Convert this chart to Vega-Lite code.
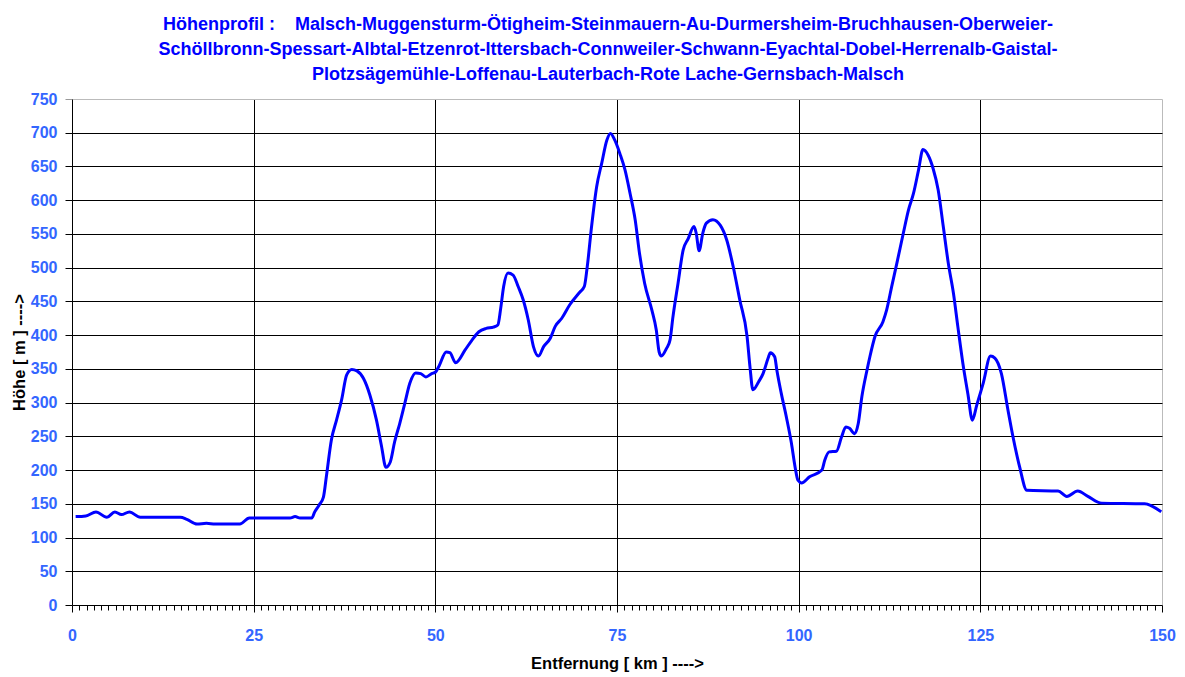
{
  "$schema": "https://vega.github.io/schema/vega-lite/v6.json",
  "width": 1090,
  "height": 506,
  "autosize": {"type": "none"},
  "padding": {"left": 72, "top": 99, "right": 23, "bottom": 72},
  "background": "white",
  "config": {
    "view": {"stroke": null},
    "font": "Liberation Sans"
  },
  "title": {
    "text": [
      "Höhenprofil :\u00a0\u00a0\u00a0 Malsch-Muggensturm-Ötigheim-Steinmauern-Au-Durmersheim-Bruchhausen-Oberweier-",
      "Schöllbronn-Spessart-Albtal-Etzenrot-Ittersbach-Connweiler-Schwann-Eyachtal-Dobel-Herrenalb-Gaistal-",
      "Plotzsägemühle-Loffenau-Lauterbach-Rote Lache-Gernsbach-Malsch"
    ],
    "font": "Liberation Sans",
    "fontSize": 18,
    "fontWeight": "bold",
    "color": "#0000FF",
    "lineHeight": 25,
    "anchor": "middle",
    "offset": 7,
    "dx": -9
  },
  "data": {
    "values": [
      {"km": 0.5, "h": 131}, {"km": 1.9, "h": 132}, {"km": 3.3, "h": 138}, {"km": 4.8, "h": 130},
      {"km": 5.9, "h": 138}, {"km": 6.8, "h": 134}, {"km": 7.9, "h": 138}, {"km": 9.4, "h": 130},
      {"km": 14.9, "h": 130}, {"km": 15.8, "h": 127}, {"km": 17.2, "h": 120}, {"km": 18.5, "h": 121},
      {"km": 19.7, "h": 120}, {"km": 23.1, "h": 120}, {"km": 24.4, "h": 129}, {"km": 30.0, "h": 129},
      {"km": 30.7, "h": 131}, {"km": 31.4, "h": 129}, {"km": 33.0, "h": 129}, {"km": 33.4, "h": 138},
      {"km": 34.0, "h": 148}, {"km": 34.6, "h": 160}, {"km": 35.0, "h": 190}, {"km": 35.7, "h": 245},
      {"km": 36.4, "h": 274}, {"km": 37.1, "h": 304}, {"km": 37.8, "h": 341}, {"km": 38.5, "h": 349},
      {"km": 39.2, "h": 347}, {"km": 40.1, "h": 336}, {"km": 41.0, "h": 311}, {"km": 41.9, "h": 274},
      {"km": 42.6, "h": 235}, {"km": 43.2, "h": 204}, {"km": 43.8, "h": 212}, {"km": 44.4, "h": 242},
      {"km": 45.1, "h": 269}, {"km": 45.8, "h": 299}, {"km": 46.5, "h": 329}, {"km": 47.3, "h": 344},
      {"km": 48.0, "h": 343}, {"km": 48.7, "h": 338}, {"km": 49.5, "h": 343}, {"km": 50.0, "h": 345},
      {"km": 50.5, "h": 354}, {"km": 51.5, "h": 375}, {"km": 52.0, "h": 374}, {"km": 52.8, "h": 359},
      {"km": 54.1, "h": 378}, {"km": 55.0, "h": 392}, {"km": 56.0, "h": 405}, {"km": 57.0, "h": 410},
      {"km": 58.0, "h": 412}, {"km": 58.6, "h": 415}, {"km": 59.0, "h": 440}, {"km": 59.4, "h": 472},
      {"km": 60.0, "h": 492}, {"km": 60.7, "h": 489}, {"km": 61.4, "h": 472}, {"km": 62.1, "h": 452},
      {"km": 62.8, "h": 422}, {"km": 63.5, "h": 383}, {"km": 64.2, "h": 369}, {"km": 64.9, "h": 383},
      {"km": 65.8, "h": 395}, {"km": 66.5, "h": 413}, {"km": 67.4, "h": 425}, {"km": 68.5, "h": 445},
      {"km": 69.9, "h": 464}, {"km": 70.5, "h": 472}, {"km": 70.9, "h": 501}, {"km": 71.5, "h": 561},
      {"km": 72.2, "h": 620}, {"km": 72.9, "h": 655}, {"km": 73.6, "h": 689}, {"km": 74.1, "h": 699},
      {"km": 74.7, "h": 689}, {"km": 75.4, "h": 669}, {"km": 76.1, "h": 645}, {"km": 76.8, "h": 610},
      {"km": 77.5, "h": 571}, {"km": 78.1, "h": 521}, {"km": 78.8, "h": 477}, {"km": 79.8, "h": 437},
      {"km": 80.4, "h": 408}, {"km": 80.8, "h": 375}, {"km": 81.1, "h": 369}, {"km": 81.8, "h": 380},
      {"km": 82.3, "h": 393}, {"km": 82.7, "h": 427}, {"km": 83.4, "h": 477}, {"km": 84.1, "h": 526},
      {"km": 84.8, "h": 543}, {"km": 85.6, "h": 561}, {"km": 85.9, "h": 551}, {"km": 86.3, "h": 525},
      {"km": 86.8, "h": 551}, {"km": 87.3, "h": 566}, {"km": 88.2, "h": 571}, {"km": 89.2, "h": 563},
      {"km": 90.1, "h": 541}, {"km": 91.0, "h": 501}, {"km": 91.9, "h": 452}, {"km": 92.9, "h": 398},
      {"km": 93.3, "h": 353}, {"km": 93.7, "h": 319}, {"km": 94.5, "h": 331}, {"km": 95.1, "h": 343},
      {"km": 95.8, "h": 366}, {"km": 96.1, "h": 374}, {"km": 96.7, "h": 368}, {"km": 97.0, "h": 348},
      {"km": 97.6, "h": 314}, {"km": 98.3, "h": 279}, {"km": 99.0, "h": 240}, {"km": 99.5, "h": 205},
      {"km": 99.9, "h": 185}, {"km": 100.4, "h": 181}, {"km": 101.5, "h": 190}, {"km": 103.2, "h": 200},
      {"km": 103.6, "h": 215}, {"km": 104.2, "h": 227}, {"km": 105.2, "h": 228}, {"km": 105.9, "h": 249},
      {"km": 106.5, "h": 264}, {"km": 107.0, "h": 262}, {"km": 107.7, "h": 254}, {"km": 108.2, "h": 269},
      {"km": 108.7, "h": 309}, {"km": 109.4, "h": 348}, {"km": 109.8, "h": 368}, {"km": 110.5, "h": 398},
      {"km": 111.6, "h": 420}, {"km": 112.1, "h": 437}, {"km": 112.8, "h": 472}, {"km": 113.5, "h": 506},
      {"km": 114.4, "h": 551}, {"km": 115.1, "h": 585}, {"km": 115.8, "h": 610}, {"km": 116.5, "h": 645},
      {"km": 117.1, "h": 675}, {"km": 117.8, "h": 667}, {"km": 118.5, "h": 647}, {"km": 119.2, "h": 615},
      {"km": 119.9, "h": 561}, {"km": 120.6, "h": 506}, {"km": 121.3, "h": 462}, {"km": 121.9, "h": 413},
      {"km": 122.6, "h": 358}, {"km": 123.3, "h": 312}, {"km": 123.9, "h": 274}, {"km": 124.5, "h": 296},
      {"km": 125.4, "h": 329}, {"km": 126.4, "h": 369}, {"km": 127.0, "h": 366}, {"km": 127.9, "h": 343},
      {"km": 128.8, "h": 289}, {"km": 129.5, "h": 249}, {"km": 130.4, "h": 205}, {"km": 131.4, "h": 170},
      {"km": 135.7, "h": 169}, {"km": 136.9, "h": 161}, {"km": 138.4, "h": 169}, {"km": 139.8, "h": 161},
      {"km": 141.7, "h": 151}, {"km": 147.6, "h": 150}, {"km": 149.9, "h": 138}
    ]
  },
  "mark": {"type": "line", "color": "#0000FF", "strokeWidth": 3, "interpolate": "monotone", "clip": true},
  "encoding": {
    "x": {
      "field": "km",
      "type": "quantitative",
      "scale": {"domain": [0, 150], "nice": false, "zero": false},
      "axis": {
        "title": "Entfernung [ km ] ---->",
        "titleFont": "Liberation Sans",
        "titleFontSize": 16.5,
        "titleFontWeight": "bold",
        "titleColor": "#000000",
        "titlePadding": 12,
        "values": [0,1,2,3,4,5,6,7,8,9,10,11,12,13,14,15,16,17,18,19,20,21,22,23,24,25,26,27,28,29,30,31,32,33,34,35,36,37,38,39,40,41,42,43,44,45,46,47,48,49,50,51,52,53,54,55,56,57,58,59,60,61,62,63,64,65,66,67,68,69,70,71,72,73,74,75,76,77,78,79,80,81,82,83,84,85,86,87,88,89,90,91,92,93,94,95,96,97,98,99,100,101,102,103,104,105,106,107,108,109,110,111,112,113,114,115,116,117,118,119,120,121,122,123,124,125,126,127,128,129,130,131,132,133,134,135,136,137,138,139,140,141,142,143,144,145,146,147,148,149,150],
        "labelExpr": "datum.value % 25 === 0 ? datum.label : ''",
        "labelOverlap": false,
        "labelFont": "Liberation Sans",
        "labelFontSize": 16,
        "labelFontWeight": "bold",
        "labelColor": "#3366FF",
        "labelPadding": 15,
        "labelFlush": false,
        "domainColor": "#000000",
        "domainWidth": 1,
        "tickColor": "#000000",
        "tickWidth": 1,
        "tickSize": {"condition": {"test": "datum.value % 25 === 0", "value": 7}, "value": 5},
        "grid": true,
        "gridColor": {"condition": {"test": "datum.value === 150", "value": "#bbbbbb"}, "value": "#000000"},
        "gridOpacity": {"condition": {"test": "datum.value % 25 === 0 && datum.value > 0", "value": 1}, "value": 0},
        "gridWidth": 1
      }
    },
    "y": {
      "field": "h",
      "type": "quantitative",
      "scale": {"domain": [0, 750], "nice": false},
      "axis": {
        "title": "Höhe [ m ] ---->",
        "titleFont": "Liberation Sans",
        "titleFontSize": 16.5,
        "titleFontWeight": "bold",
        "titleColor": "#000000",
        "titlePadding": 3,
        "values": [0,50,100,150,200,250,300,350,400,450,500,550,600,650,700,750],
        "labelFont": "Liberation Sans",
        "labelFontSize": 16,
        "labelFontWeight": "bold",
        "labelColor": "#3366FF",
        "labelPadding": 8,
        "labelFlush": false,
        "domainColor": "#000000",
        "tickColor": {"condition": {"test": "datum.value === 750", "value": "#999999"}, "value": "#000000"},
        "tickSize": 7,
        "grid": true,
        "gridColor": {"condition": {"test": "datum.value === 750", "value": "#bbbbbb"}, "value": "#000000"},
        "gridOpacity": {"condition": {"test": "datum.value === 0", "value": 0}, "value": 1},
        "gridWidth": 1
      }
    }
  }
}
